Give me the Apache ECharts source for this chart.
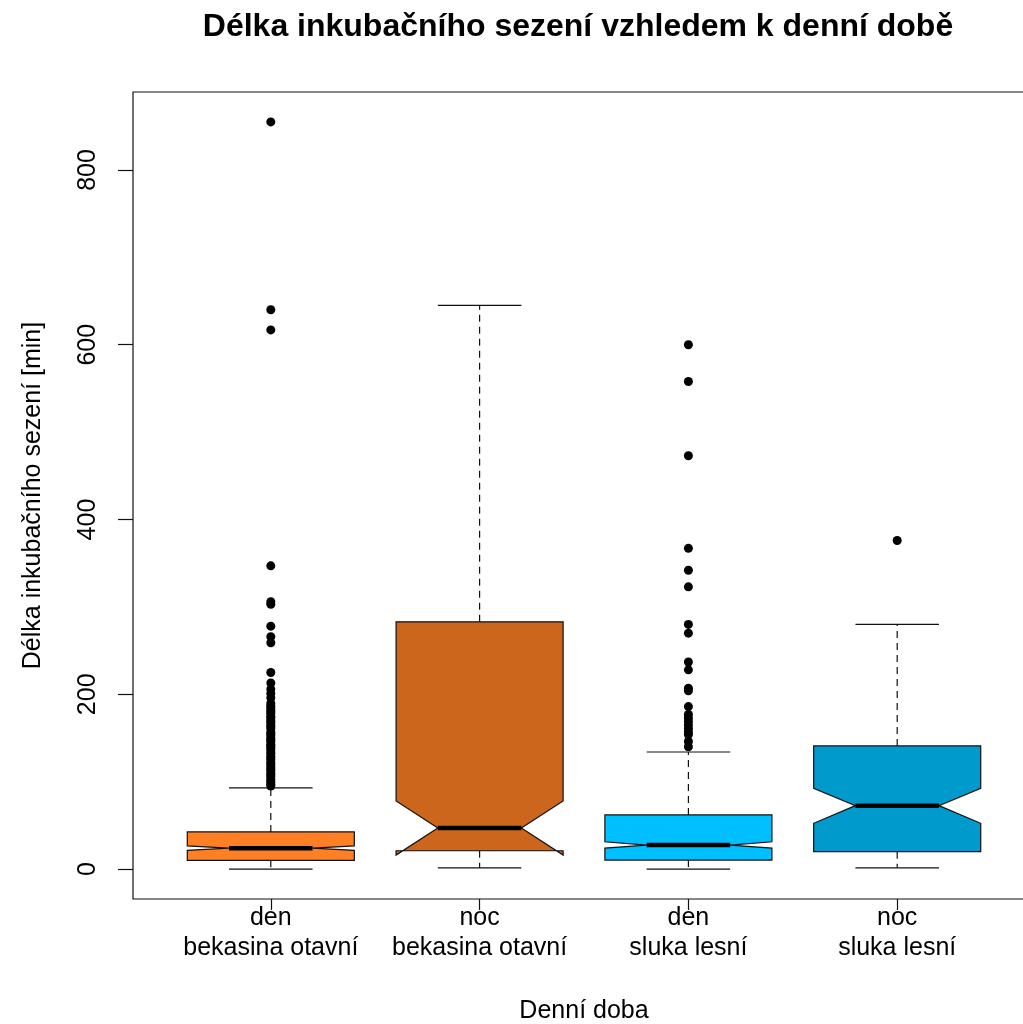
<!DOCTYPE html>
<html>
<head>
<meta charset="utf-8">
<script src="https://cdn.jsdelivr.net/npm/echarts@6/dist/echarts.min.js"></script>
<style>html,body{margin:0;padding:0;background:#fff}#c{width:1023px;height:1024px}</style>
</head>
<body>
<div id="c"></div>
<script>
// ---- data ----
const periods = ['den', 'noc', 'den', 'noc'];
const species = ['bekasina otavní', 'bekasina otavní', 'sluka lesní', 'sluka lesní'];
const whiskerLow = [0, 1.5, 0, 1.5];
const q1 = [10, 21, 10.3, 20];
const notchLow = [21.5, 16, 24, 52.4];
const median = [24, 47, 27.5, 72.6];
const notchHigh = [26.5, 78, 31.3, 92.5];
const q3 = [42.6, 283, 62, 141];
const whiskerHigh = [93, 645, 134, 280];
const outliers1 = [855, 640, 617, 347, 306, 303, 278, 266, 259, 225, 213, 206, 201, 196, 190, 187, 185, 182, 180, 178, 175, 173, 170, 168, 165, 163, 161, 157, 155, 153, 150, 148, 146, 143, 141, 139, 137, 134, 132, 129, 127, 125, 122, 120, 117, 115, 113, 110, 108, 106, 103, 101, 99, 97, 95];
const outliers2 = [];
const outliers3 = [600, 558, 473, 367, 342, 323, 280, 270, 237, 228, 207, 204, 186, 177, 173, 169, 165, 161, 157, 154, 146, 140];
const outliers4 = [376];
const yTicks = [0, 200, 400, 600, 800];

// ---- styles ----
const boxColors = ['#FF7F24', '#CD661D', '#00BFFF', '#009ACD'];
const FONT = '"Liberation Sans", Arial, sans-serif';

const boxData = periods.map((p, i) => [i + 1, whiskerLow[i], q1[i], notchLow[i], median[i], notchHigh[i], q3[i], whiskerHigh[i]]);
const outlierData = [];
[outliers1, outliers2, outliers3, outliers4].forEach((arr, i) => arr.forEach(v => outlierData.push([i + 1, v])));

const chart = echarts.init(document.getElementById('c'), null, { renderer: 'canvas' });

function renderBox(params, api) {
  const x = api.value(0);
  const lo = api.value(1), b1 = api.value(2), cl = api.value(3), md = api.value(4), ch = api.value(5), b3 = api.value(6), hi = api.value(7);
  const wid = 0.4, nf = 0.5, st = 0.2;
  const c = (xx, yy) => api.coord([xx, yy]);
  const poly = [c(x - wid, b1), c(x + wid, b1), c(x + wid, cl), c(x + wid * nf, md), c(x + wid, ch),
                c(x + wid, b3), c(x - wid, b3), c(x - wid, ch), c(x - wid * nf, md), c(x - wid, cl)];
  const line = (p1, p2, style) => ({ type: 'line', shape: { x1: p1[0], y1: p1[1], x2: p2[0], y2: p2[1] }, style: style });
  const solid = { stroke: '#111', lineWidth: 1.2 };
  const dashed = { stroke: '#111', lineWidth: 1.2, lineDash: [7, 5] };
  return {
    type: 'group',
    children: [
      { type: 'polygon', shape: { points: poly }, style: { fill: boxColors[params.dataIndex], stroke: '#111', lineWidth: 1.2 } },
      line(c(x, b3), c(x, hi), dashed),
      line(c(x, b1), c(x, lo), dashed),
      line(c(x - st, hi), c(x + st, hi), solid),
      line(c(x - st, lo), c(x + st, lo), solid),
      line(c(x - wid * nf, md), c(x + wid * nf, md), { stroke: '#000', lineWidth: 4.5 })
    ]
  };
}

chart.setOption({
  animation: false,
  backgroundColor: '#fff',
  textStyle: { fontFamily: FONT },
  graphic: [{
    type: 'text', x: 578, y: 27,
    style: { text: 'Délka inkubačního sezení vzhledem k denní době', font: 'bold 32px ' + FONT, fill: '#000', textAlign: 'center', textVerticalAlign: 'middle' }
  }],
  grid: { left: 133, top: 92, width: 902, height: 807, containLabel: false, outerBoundsMode: 'none',
          show: true, borderColor: '#111', borderWidth: 1.2, backgroundColor: 'transparent' },
  xAxis: {
    type: 'value', min: 0.34, max: 4.66,
    axisLine: { show: false, onZero: false },
    splitLine: { show: false },
    axisTick: { show: true, length: 11, customValues: [1, 2, 3, 4], lineStyle: { color: '#111', width: 1.2 } },
    axisLabel: {
      customValues: [1, 2, 3, 4], margin: 4, fontSize: 25, lineHeight: 30, color: '#000', fontFamily: FONT,
      formatter: v => periods[Math.round(v) - 1] + '\n' + species[Math.round(v) - 1]
    },
    name: 'Denní doba', nameLocation: 'middle', nameGap: 100,
    nameTextStyle: { fontSize: 25, color: '#000', fontFamily: FONT }
  },
  yAxis: {
    type: 'value', min: -34.2, max: 889.2,
    axisLine: { show: false, onZero: false },
    splitLine: { show: false },
    axisTick: { show: true, length: 15, customValues: yTicks, lineStyle: { color: '#111', width: 1.2 } },
    axisLabel: { customValues: yTicks, rotate: 90, margin: 32, fontSize: 25, color: '#000', fontFamily: FONT },
    name: 'Délka inkubačního sezení [min]', nameLocation: 'middle', nameGap: 87,
    nameTextStyle: { fontSize: 25, color: '#000', fontFamily: FONT }
  },
  series: [
    { type: 'custom', data: boxData, renderItem: renderBox, encode: { x: 0, y: [1, 2, 3, 4, 5, 6, 7] }, z: 2 },
    { type: 'scatter', data: outlierData, symbol: 'circle', symbolSize: 9, itemStyle: { color: '#000', opacity: 1 }, z: 3 }
  ]
});
</script>
</body>
</html>
